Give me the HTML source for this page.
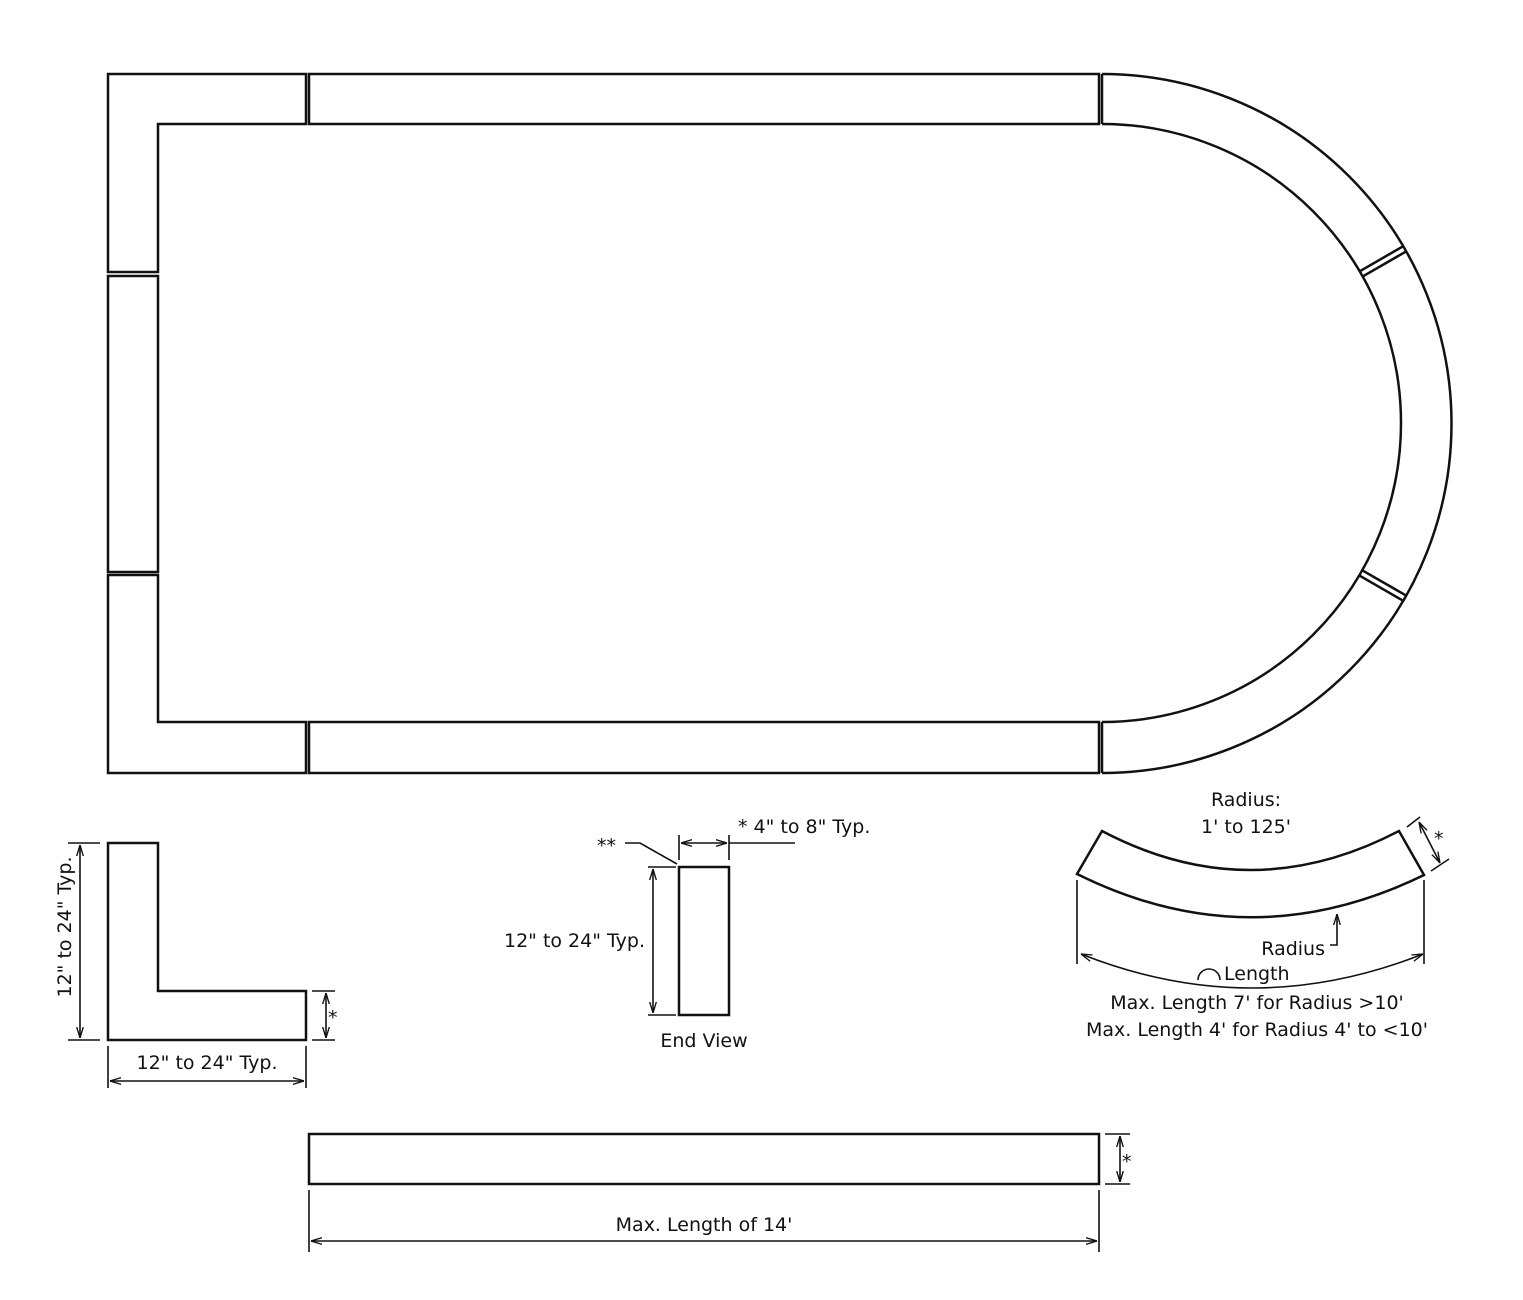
<!DOCTYPE html>
<html><head><meta charset="utf-8"><style>html,body{margin:0;padding:0;background:#fff}svg{display:block}text{font-family:"DejaVu Sans","Liberation Sans",sans-serif;font-size:19px;fill:#111}</style></head><body>
<svg width="1523" height="1300" viewBox="0 0 1523 1300" xmlns="http://www.w3.org/2000/svg">
<defs><marker id="a" viewBox="0 0 10 10" refX="10" refY="5" markerWidth="7" markerHeight="7" orient="auto-start-reverse"><path d="M0,2 L10,5 L0,8" fill="none" stroke="#111" stroke-width="1.2"/></marker></defs>
<g fill="none" stroke="#111" stroke-width="2.5">
<polygon points="108,74 306,74 306,124 158,124 158,272 108,272"/>
<rect x="108" y="276" width="50" height="296"/>
<polygon points="108,575 158,575 158,722 306,722 306,773 108,773"/>
<rect x="309" y="74" width="790" height="50"/>
<rect x="309" y="722" width="790" height="51"/>
<line x1="1102" y1="74" x2="1102" y2="124"/><line x1="1102" y1="722" x2="1102" y2="773"/>
<path d="M1102,74 A349.5,349.5 0 0 1 1102,773"/>
<path d="M1102,124 A299,299 0 0 1 1102,722"/>
<line x1="1359.5" y1="271.4" x2="1403.2" y2="246.2"/><line x1="1362.5" y1="276.6" x2="1406.2" y2="251.4"/>
<line x1="1359.5" y1="575.6" x2="1403.2" y2="600.8"/><line x1="1362.5" y1="570.4" x2="1406.2" y2="595.6"/>
</g>
<g fill="none" stroke="#111" stroke-width="2.5">
<polygon points="108,843 158,843 158,991 306,991 306,1040 108,1040"/>
<rect x="679" y="867" width="50" height="148"/>
<path d="M1102,831 Q1250,909 1399,831 L1424,875 Q1250,960 1077,874 Z"/>
<rect x="309" y="1134" width="790" height="50"/>
</g>
<g fill="none" stroke="#111" stroke-width="1.6">
<line x1="68" y1="843" x2="100" y2="843"/><line x1="68" y1="1040" x2="100" y2="1040"/>
<line x1="80" y1="845" x2="80" y2="1038" marker-start="url(#a)" marker-end="url(#a)"/>
<line x1="312" y1="991" x2="335" y2="991"/><line x1="312" y1="1040" x2="335" y2="1040"/>
<line x1="326" y1="993" x2="326" y2="1038" marker-start="url(#a)" marker-end="url(#a)"/>
<line x1="108" y1="1046" x2="108" y2="1088"/><line x1="306" y1="1046" x2="306" y2="1088"/>
<line x1="110" y1="1081" x2="304" y2="1081" marker-start="url(#a)" marker-end="url(#a)"/>
<line x1="648" y1="867" x2="676" y2="867"/><line x1="648" y1="1015" x2="676" y2="1015"/>
<line x1="653" y1="869" x2="653" y2="1013" marker-start="url(#a)" marker-end="url(#a)"/>
<line x1="679" y1="835" x2="679" y2="860"/><line x1="729" y1="835" x2="729" y2="860"/>
<line x1="681" y1="843" x2="727" y2="843" marker-start="url(#a)" marker-end="url(#a)"/>
<line x1="729" y1="843" x2="795" y2="843"/>
<polyline points="625,843 640,843 677,864"/>
<line x1="1077" y1="880" x2="1077" y2="964"/><line x1="1424" y1="880" x2="1424" y2="964"/>
<path d="M1081,954 Q1252,1022 1423,954" marker-start="url(#a)" marker-end="url(#a)"/>
<polyline points="1330,945 1337,945 1337,914" marker-end="url(#a)"/>
<path d="M1198,980 A11,11 0 0 1 1220,980"/>
<line x1="1407" y1="827" x2="1420" y2="817"/><line x1="1431" y1="871" x2="1449" y2="859"/>
<line x1="1419" y1="822" x2="1440" y2="863" marker-start="url(#a)" marker-end="url(#a)"/>
<line x1="1105" y1="1134" x2="1130" y2="1134"/><line x1="1105" y1="1184" x2="1130" y2="1184"/>
<line x1="1120" y1="1136" x2="1120" y2="1182" marker-start="url(#a)" marker-end="url(#a)"/>
<line x1="309" y1="1190" x2="309" y2="1252"/><line x1="1099" y1="1190" x2="1099" y2="1252"/>
<line x1="311" y1="1241" x2="1097" y2="1241" marker-start="url(#a)" marker-end="url(#a)"/>
</g>
<text transform="translate(71,927) rotate(-90)" text-anchor="middle">12" to 24" Typ.</text>
<text x="328" y="1024">*</text>
<text x="207" y="1069" text-anchor="middle">12" to 24" Typ.</text>
<text x="645" y="947" text-anchor="end">12" to 24" Typ.</text>
<text x="704" y="1047" text-anchor="middle">End View</text>
<text x="738" y="833">* 4" to 8" Typ.</text>
<text x="597" y="852">**</text>
<text x="1246" y="806" text-anchor="middle">Radius:</text>
<text x="1246" y="833" text-anchor="middle">1' to 125'</text>
<text x="1434" y="845">*</text>
<text x="1325" y="955" text-anchor="end">Radius</text>
<text x="1224" y="980">Length</text>
<text x="1257" y="1009" text-anchor="middle">Max. Length 7' for Radius &gt;10'</text>
<text x="1257" y="1036" text-anchor="middle">Max. Length 4' for Radius 4'  to &lt;10'</text>
<text x="1122" y="1168">*</text>
<text x="704" y="1231" text-anchor="middle">Max. Length of 14'</text>
</svg>
</body></html>
